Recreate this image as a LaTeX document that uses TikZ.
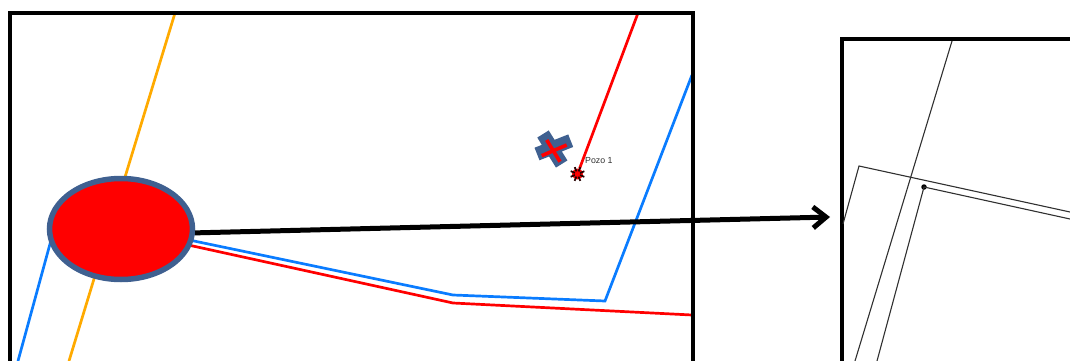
\documentclass[tikz,border=0pt]{standalone}
\usepackage{fontspec}
\setmainfont{Liberation Sans}
\usepackage{xcolor}
\usetikzlibrary{arrows.meta, shapes.geometric, positioning, calc, backgrounds}
\definecolor{ZoneBlue}{HTML}{3F6090}
\definecolor{WellBlue}{HTML}{0A7CFF}
\definecolor{FaultOrange}{HTML}{FFAA00}
\definecolor{ThinGray}{HTML}{303030}

\begin{document}
\begin{tikzpicture}[
  x=1pt, y=-1pt,
  frame/.style={line width=4pt, black},
  blueline/.style={line width=2.7pt, WellBlue},
  redline/.style={line width=2.7pt, red},
  orangeline/.style={line width=2.7pt, FaultOrange},
  thinline/.style={line width=1.1pt, ThinGray},
  zone/.style={ellipse, draw=ZoneBlue, line width=5.5pt, fill=red, inner sep=0pt, minimum width=143pt, minimum height=101pt},
  bigarrow/.style={line width=5pt, black, -{Straight Barb[length=13pt, width=21pt, line width=5pt]}},
  label/.style={font=\fontsize{8.8}{10}\selectfont, color=ThinGray, inner sep=0pt}
]
\useasboundingbox (0,0) rectangle (1070,361);

% left panel
\draw[frame] (10,361) -- (10,13) -- (692.5,13) -- (692.5,361);
\node[zone] (blob) at (121,229) {};

% points of the traces
\coordinate (orangeTop) at (175,13);
\coordinate (orangeEnd) at (69,361);
\coordinate (blueEnd) at (18,361);
\coordinate (blueIn) at (56,222);
\coordinate (blueOut) at (170,236);
\coordinate (blueMid) at (453,295);
\coordinate (blueCorner) at (605,301);
\coordinate (blueTop) at (692,75);
\coordinate (redOut) at (170,241);
\coordinate (redMid) at (453,303);
\coordinate (redEnd) at (692,315);
\coordinate (wellTop) at (638,13);
\coordinate (arrowEnd) at (830,217);

\node[circle, fill=red, inner sep=0pt, minimum size=11pt] (well) at (577.5,174) {};
\node[label, anchor=west] (wellname) at (585,161) {Pozo 1};

\begin{scope}[on background layer]
  \draw[orangeline] (orangeTop) -- (orangeEnd);
  \draw[blueline] (blueIn) -- (blueEnd);
  \draw[blueline] (blueOut) -- (blueMid) -- (blueCorner) -- (blueTop);
  \draw[redline] (redOut) -- (redMid) -- (redEnd);
  \draw[redline] (wellTop) -- (well);
\end{scope}

% well marker spokes
\foreach \a in {0,45,...,315}
  \draw[line width=1.8pt, black!85!red] ($(well.center)+(\a+22:2.8pt)$) -- ++(\a+22:4.6pt);

% cross
\coordinate (crossA) at (543,134);
\coordinate (crossB) at (561.7,164);
\coordinate (crossC) at (537,154);
\coordinate (crossD) at (570.7,140.7);
\coordinate (crossE) at (546.7,140);
\coordinate (crossF) at (560,161.7);
\coordinate (crossG) at (541.7,155.7);
\coordinate (crossH) at (566.7,145);
\draw[ZoneBlue, line width=13.5pt] (crossA) -- (crossB) (crossC) -- (crossD);
\draw[red, line width=3.6pt] (crossE) -- (crossF) (crossG) -- (crossH);

\draw[bigarrow] (blob.-3) -- (arrowEnd);

% right panel
\draw[frame] (842,361) -- (842,39) -- (1070,39);
\coordinate (faultTop) at (952,41);
\coordinate (faultEnd) at (855,361);
\coordinate (outerA) at (843,224);
\coordinate (outerB) at (859,166);
\coordinate (outerC) at (1070,212);
\coordinate (innerA) at (877,361);
\coordinate (innerC) at (1070,219);
\node[circle, fill=black, inner sep=0pt, minimum size=5.5pt] (heel) at (924,187) {};
\draw[thinline] (faultTop) -- (faultEnd);
\draw[thinline] (outerA) -- (outerB) -- (outerC);
\draw[thinline] (innerA) -- (heel.center) -- (innerC);
\end{tikzpicture}
\end{document}
